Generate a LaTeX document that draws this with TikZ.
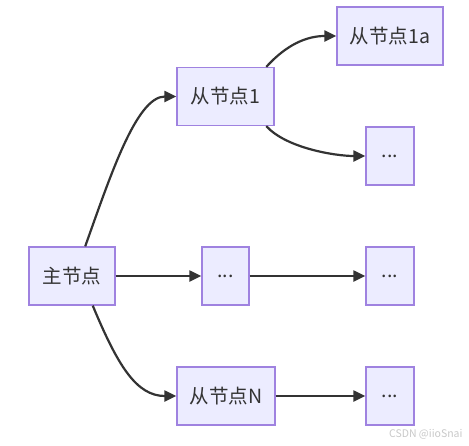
\documentclass[tikz,border=0pt]{standalone}
\usepackage{fontspec}
\setmainfont{Noto Sans CJK SC}
\usetikzlibrary{arrows.meta}
\definecolor{nfill}{HTML}{ECECFF}
\definecolor{nborder}{HTML}{9F82E0}
\definecolor{ink}{HTML}{333333}
\definecolor{wm}{HTML}{C8C8C8}
\begin{document}
\begin{tikzpicture}[x=1pt,y=-1pt,
  box/.style={draw=nborder,fill=nfill,line width=1.3pt,text=ink,
    font=\fontsize{19.5}{22}\selectfont,inner sep=0pt,anchor=center,minimum height=58pt},
  link/.style={draw=ink,line width=2.2pt,-{Triangle[length=12pt,width=11pt]}}]
\useasboundingbox (0,0) rectangle (469,445);
\node[box,minimum width=86pt] (main) at (72,276) {主节点};
\node[box,minimum width=97pt] (n1) at (225.5,96.5) {从节点1};
\node[box,minimum width=106pt] (n1a) at (390,36) {从节点1a};
\node[box,minimum width=48pt] (d1) at (390,156) {...};
\node[box,minimum width=47pt] (d2) at (225.5,276) {...};
\node[box,minimum width=48pt] (d3) at (390,276) {...};
\node[box,minimum width=98pt] (nN) at (226,396) {从节点N};
\node[box,minimum width=48pt] (d4) at (390,396) {...};
\node[text=wm,font=\fontsize{10.5}{12}\selectfont,anchor=east] (wmk) at (466,434) {CSDN @iioSnai};
\draw[link] (main.66) .. controls +(25,-70) and +(-40,0) .. (n1.west);
\draw[link] (main.-55) .. controls +(25,60) and +(-40,0) .. (nN.west);
\draw[link] (main.east) -- (d2.west);
\draw[link] (n1.36) .. controls +(20,-22) and +(-30,0) .. (n1a.west);
\draw[link] (n1.-36) .. controls +(20,22) and +(-30,0) .. (d1.west);
\draw[link] (d2.east) -- (d3.west);
\draw[link] (nN.east) -- (d4.west);
\end{tikzpicture}
\end{document}
